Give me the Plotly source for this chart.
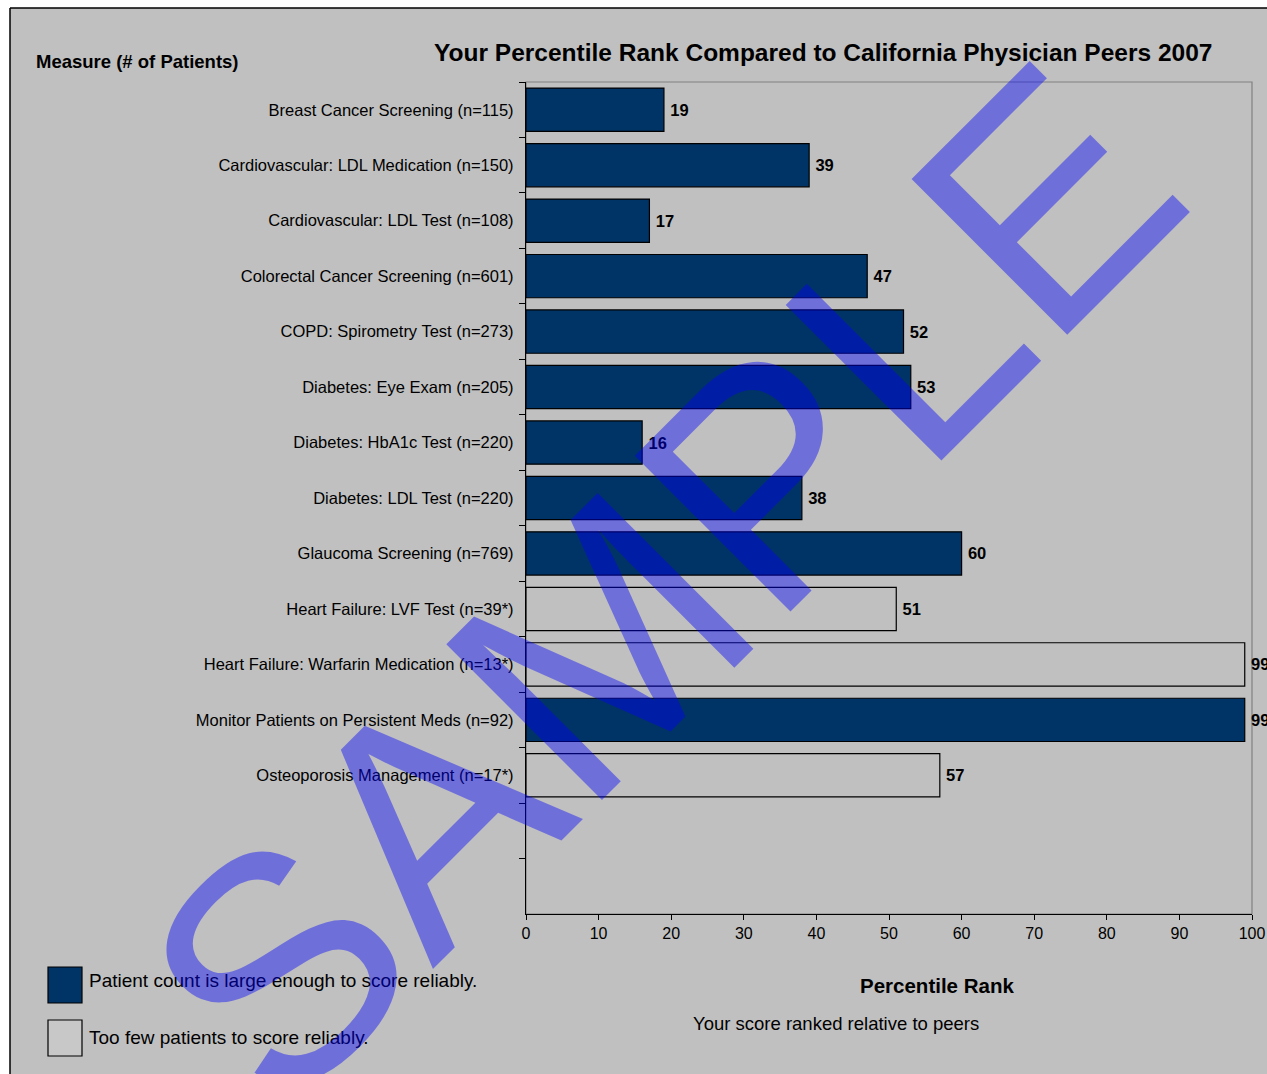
import plotly.graph_objects as go

# ---------------- data ----------------
measures = [
    "Breast Cancer Screening (n=115)",
    "Cardiovascular: LDL Medication (n=150)",
    "Cardiovascular: LDL Test (n=108)",
    "Colorectal Cancer Screening (n=601)",
    "COPD: Spirometry Test (n=273)",
    "Diabetes: Eye Exam (n=205)",
    "Diabetes: HbA1c Test (n=220)",
    "Diabetes: LDL Test (n=220)",
    "Glaucoma Screening (n=769)",
    "Heart Failure: LVF Test (n=39*)",
    "Heart Failure: Warfarin Medication (n=13*)",
    "Monitor Patients on Persistent Meds (n=92)",
    "Osteoporosis Management (n=17*)",
]
percentile = [19, 39, 17, 47, 52, 53, 16, 38, 60, 51, 99, 99, 57]
reliable = [True, True, True, True, True, True, True, True, True, False, False, True, False]
empty_slots = [" ", "  "]
x_ticks = [0, 10, 20, 30, 40, 50, 60, 70, 80, 90, 100]

title_text = "Your Percentile Rank Compared to California Physician Peers 2007"
measure_header = "Measure (# of Patients)"
x_title = "Percentile Rank"
x_subtitle = "Your score ranked relative to peers"
legend_reliable = "Patient count is large enough to score reliably."
legend_unreliable = "Too few patients to score reliably."
watermark = "SAMPLE"

# ---------------- layout geometry (page pixels) ----------------
W, H = 1267, 1074
L, R, T, B = 526, 1252, 82, 914
NAVY = "#003366"
GRAY = "#C0C0C0"
FONT = "Liberation Sans, Arial, sans-serif"


def px(x):
    return (x - L) / (R - L)


def py(y):
    return (B - y) / (B - T)


colors = [NAVY if r else GRAY for r in reliable]

fig = go.Figure()
fig.add_trace(go.Bar(
    x=percentile,
    y=measures,
    orientation="h",
    width=0.78,
    marker=dict(color=colors, line=dict(color="black", width=1.2)),
    text=["\u2009" + str(v) for v in percentile],
    textposition="outside",
    textfont=dict(family=FONT, size=16.5, color="black", weight="bold"),
    constraintext="none",
    cliponaxis=False,
    hoverinfo="skip",
    showlegend=False,
))

shapes = [
    # white strip above and left of the frame
    dict(type="rect", xref="paper", yref="paper", x0=px(-5), x1=px(W + 5), y0=py(8), y1=py(-5),
         fillcolor="white", line=dict(width=0), layer="below"),
    dict(type="rect", xref="paper", yref="paper", x0=px(-5), x1=px(10), y0=py(H + 5), y1=py(-5),
         fillcolor="white", line=dict(width=0), layer="below"),
    # outer frame
    dict(type="line", xref="paper", yref="paper", x0=px(10), x1=px(W + 5), y0=py(8), y1=py(8),
         line=dict(color="black", width=1.5)),
    dict(type="line", xref="paper", yref="paper", x0=px(10), x1=px(10), y0=py(8), y1=py(H + 5),
         line=dict(color="black", width=1.5)),
    # plot area border
    dict(type="rect", xref="paper", yref="paper", x0=0, x1=1, y0=0, y1=1,
         line=dict(color="#808080", width=1.2), layer="below"),
    # legend boxes
    dict(type="rect", xref="paper", yref="paper", x0=px(48), x1=px(82), y0=py(1003), y1=py(967),
         fillcolor=NAVY, line=dict(color="black", width=1.2)),
    dict(type="rect", xref="paper", yref="paper", x0=px(48), x1=px(82), y0=py(1056), y1=py(1020),
         fillcolor="#C8C8C8", line=dict(color="black", width=1.2)),
]

annotations = [
    dict(text="<b>%s</b>" % title_text, xref="paper", yref="paper", x=px(823), y=py(52),
         xanchor="center", yanchor="middle", showarrow=False,
         font=dict(family=FONT, size=24.5, color="black")),
    dict(text="<b>%s</b>" % measure_header, xref="paper", yref="paper", x=px(34), y=py(61),
         xanchor="left", yanchor="middle", showarrow=False,
         font=dict(family=FONT, size=18.5, color="black")),
    dict(text="<b>%s</b>" % x_title, xref="paper", yref="paper", x=px(937), y=py(986),
         xanchor="center", yanchor="middle", showarrow=False,
         font=dict(family=FONT, size=20.5, color="black")),
    dict(text=x_subtitle, xref="paper", yref="paper", x=px(836), y=py(1023),
         xanchor="center", yanchor="middle", showarrow=False,
         font=dict(family=FONT, size=18.5, color="black")),
    dict(text=legend_reliable, xref="paper", yref="paper", x=px(87), y=py(980),
         xanchor="left", yanchor="middle", showarrow=False,
         font=dict(family=FONT, size=19, color="black")),
    dict(text=legend_unreliable, xref="paper", yref="paper", x=px(87), y=py(1037),
         xanchor="left", yanchor="middle", showarrow=False,
         font=dict(family=FONT, size=19, color="black")),
    dict(text=watermark, xref="paper", yref="paper", x=px(662), y=py(583),
         xanchor="center", yanchor="middle", showarrow=False, textangle=-45,
         font=dict(family=FONT, size=320, color="rgba(0,0,255,0.42)")),
]

fig.update_layout(
    width=W, height=H, autosize=False,
    margin=dict(l=L, r=W - R, t=T, b=H - B, pad=0, autoexpand=False),
    paper_bgcolor=GRAY, plot_bgcolor=GRAY,
    font=dict(family=FONT, color="black"),
    shapes=shapes,
    annotations=annotations,
    xaxis=dict(
        range=[0, 100], tickvals=x_ticks, ticktext=[str(t) for t in x_ticks],
        ticks="outside", ticklen=5, tickcolor="black", tickwidth=1,
        showline=True, linecolor="black", linewidth=1.2,
        showgrid=False, zeroline=False, automargin=False,
        tickfont=dict(family=FONT, size=16, color="black"),
    ),
    yaxis=dict(
        type="category", categoryorder="array", categoryarray=measures + empty_slots,
        range=[len(measures) + len(empty_slots) - 0.5, -0.5],
        ticks="outside", ticklen=6, tickcolor="black", tickwidth=1, tickson="boundaries",
        showline=True, linecolor="black", linewidth=1.2,
        showgrid=False, zeroline=False, automargin=False,
        ticklabelstandoff=8,
        tickfont=dict(family=FONT, size=16.5, color="black"),
    ),
)

fig.write_html(
    "out.html",
    config={"displayModeBar": False},
    post_script=(
        "document.body.style.margin='0';"
        "document.body.style.overflow='hidden';"
        "document.documentElement.style.overflow='hidden';"
    ),
)
